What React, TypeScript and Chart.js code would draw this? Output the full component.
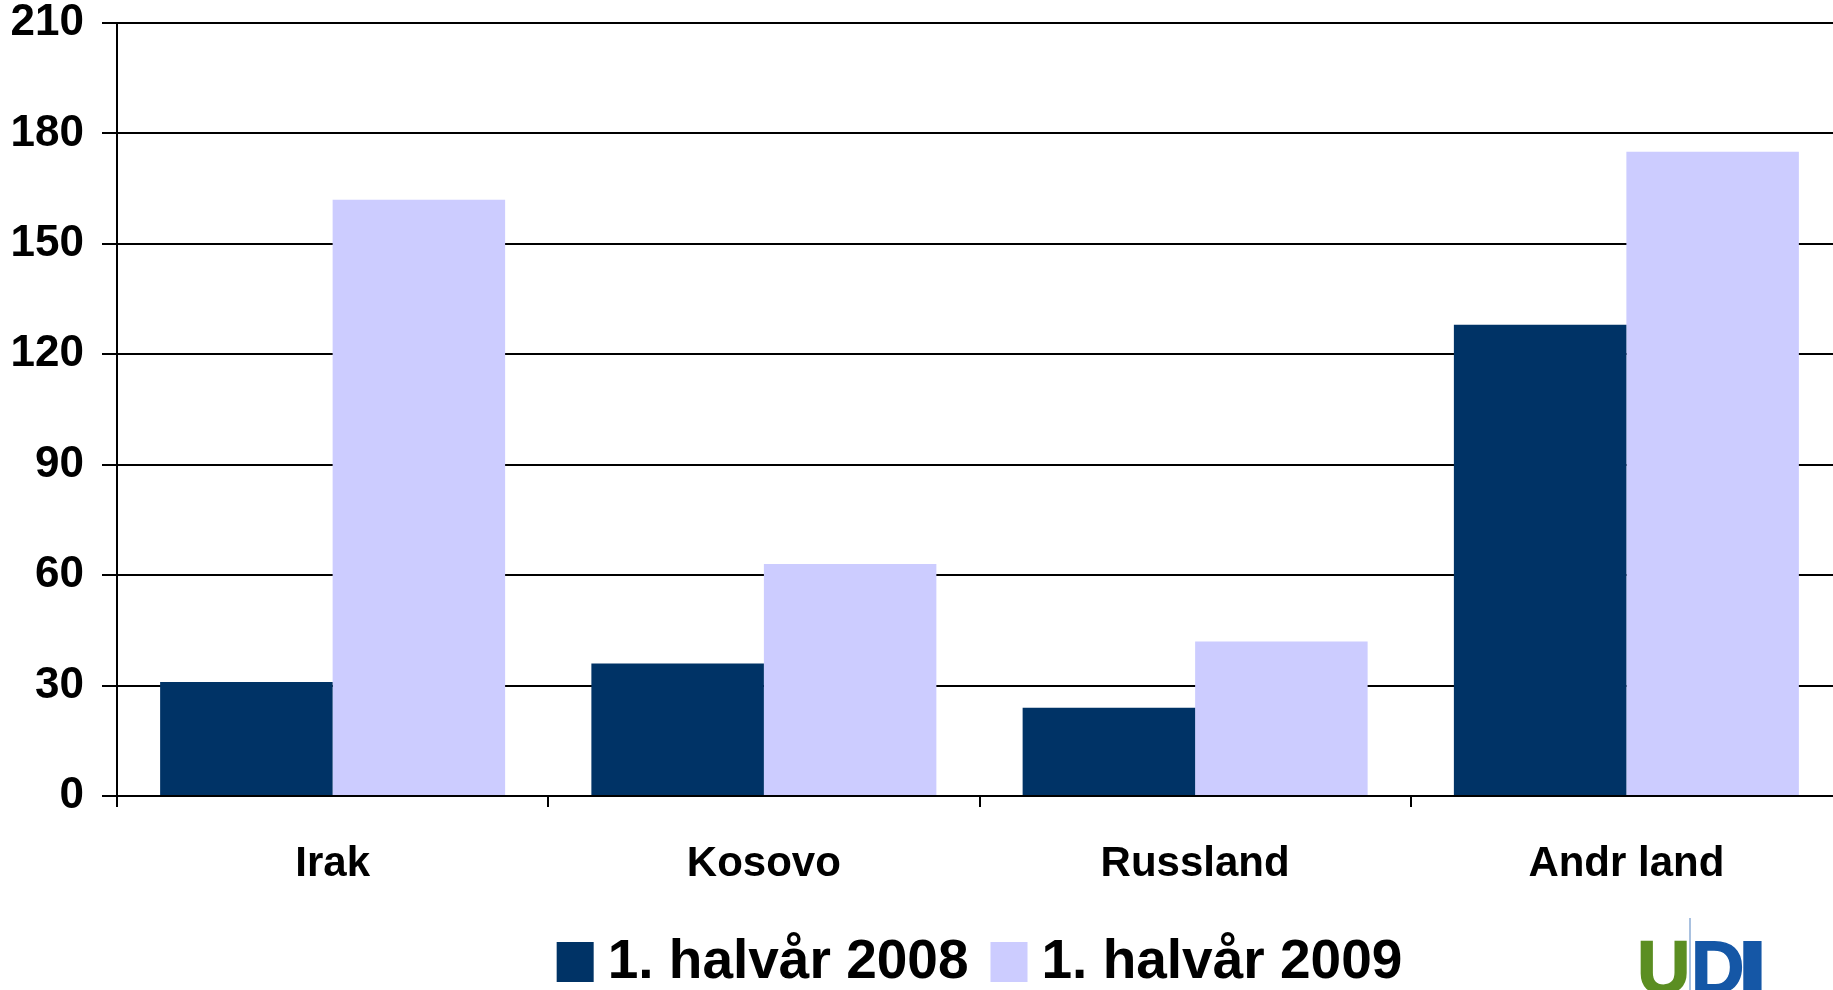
import React, { useEffect, useRef } from "react";
import { Chart, registerables } from "chart.js";

Chart.register(...registerables);

const categories = ["Irak", "Kosovo", "Russland", "Andr land"];
const series2008 = [31, 36, 24, 128];
const series2009 = [162, 63, 42, 175];
const seriesLabels = ["1. halvår 2008", "1. halvår 2009"];
const seriesColors = ["#003366", "#CCCCFF"];
const yMax = 210;
const yStep = 30;

const FONT = "'Liberation Sans', Arial, sans-serif";
const CANVAS_W = 1842;
const CANVAS_H = 990;

const legendPlugin = {
  id: "customLegend",
  afterDraw(chart: any) {
    const ctx = chart.ctx;
    const area = chart.chartArea;
    const boxW = 37;
    const boxH = 40;
    const gap = 14;
    const spacing = 22;
    const cy = 962;
    ctx.save();
    ctx.font = `bold 55px ${FONT}`;
    const items = chart.data.datasets.map((ds: any) => ({
      text: ds.label as string,
      color: ds.backgroundColor as string,
      w: ctx.measureText(ds.label).width,
    }));
    const total =
      items.reduce((s: number, it: any) => s + boxW + gap + it.w, 0) +
      spacing * (items.length - 1);
    let x = (area.left + area.right) / 2 - total / 2;
    ctx.textBaseline = "middle";
    ctx.textAlign = "left";
    for (const it of items) {
      ctx.fillStyle = it.color;
      ctx.fillRect(x, cy - boxH / 2, boxW, boxH);
      x += boxW + gap;
      ctx.fillStyle = "#000";
      ctx.fillText(it.text, x, cy + 1);
      x += it.w + spacing;
    }
    ctx.restore();
  },
};

export default function App() {
  const ref = useRef<HTMLCanvasElement | null>(null);

  useEffect(() => {
    if (!ref.current) return;
    const chart = new Chart(ref.current, {
      type: "bar",
      data: {
        labels: categories,
        datasets: [
          {
            label: seriesLabels[0],
            data: series2008,
            backgroundColor: seriesColors[0],
            borderWidth: 0,
            categoryPercentage: 0.8,
            barPercentage: 1.0,
          },
          {
            label: seriesLabels[1],
            data: series2009,
            backgroundColor: seriesColors[1],
            borderWidth: 0,
            categoryPercentage: 0.8,
            barPercentage: 1.0,
          },
        ],
      },
      plugins: [legendPlugin],
      options: {
        animation: false,
        responsive: false,
        devicePixelRatio: 1,
        layout: { autoPadding: false, padding: { top: 23, left: 0, right: 0, bottom: 65 } },
        plugins: {
          tooltip: { enabled: false },
          legend: { display: false },
        },
        scales: {
          x: {
            offset: true,
            afterFit: (s: any) => {
              s.height = 129;
              s.paddingLeft = 0;
              s.paddingRight = 0;
            },
            grid: {
              offset: true,
              drawOnChartArea: false,
              drawTicks: true,
              tickLength: 11,
              color: "#000",
              lineWidth: 2,
            },
            border: { display: true, color: "#000", width: 2 },
            ticks: {
              color: "#000",
              padding: 32,
              maxRotation: 0,
              font: { family: FONT, size: 42, weight: "bold" },
            },
          },
          y: {
            min: 0,
            max: yMax,
            afterFit: (s: any) => {
              s.width = 117;
              s.paddingTop = 0;
              s.paddingBottom = 0;
            },
            grid: {
              color: "#000",
              lineWidth: 2,
              drawTicks: true,
              tickLength: 15,
            },
            border: { display: true, color: "#000", width: 2 },
            ticks: {
              stepSize: yStep,
              color: "#000",
              padding: 18,
              font: { family: FONT, size: 44, weight: "bold" },
            },
          },
        },
      },
    });
    return () => chart.destroy();
  }, []);

  const logoText: React.CSSProperties = {
    position: "absolute",
    top: 931,
    fontFamily: FONT,
    fontWeight: "bold",
    fontSize: 74,
    lineHeight: "74px",
    whiteSpace: "nowrap",
  };

  return (
    <div
      style={{
        position: "fixed",
        left: 0,
        top: 0,
        width: 1833,
        height: 990,
        overflow: "hidden",
        background: "#fff",
      }}
    >
      <canvas
        ref={ref}
        width={CANVAS_W}
        height={CANVAS_H}
        style={{ position: "absolute", left: 0, top: 0, width: CANVAS_W, height: CANVAS_H }}
      />
      <div
        style={{
          position: "absolute",
          left: 1689,
          top: 918,
          width: 2,
          height: 72,
          background: "#a9c1e0",
        }}
      />
      <span
        style={{
          ...logoText,
          left: 1637,
          color: "#5b8e22",
          WebkitTextStroke: "1.5px #5b8e22",
        }}
      >
        U
      </span>
      <span
        style={{
          ...logoText,
          left: 1691,
          color: "#1557a6",
          WebkitTextStroke: "1.5px #1557a6",
        }}
      >
        D
      </span>
      <span
        style={{
          ...logoText,
          left: 1737,
          color: "#1557a6",
          WebkitTextStroke: "1.5px #1557a6",
          transform: "scaleX(1.5)",
          transformOrigin: "left top",
        }}
      >
        I
      </span>
    </div>
  );
}
